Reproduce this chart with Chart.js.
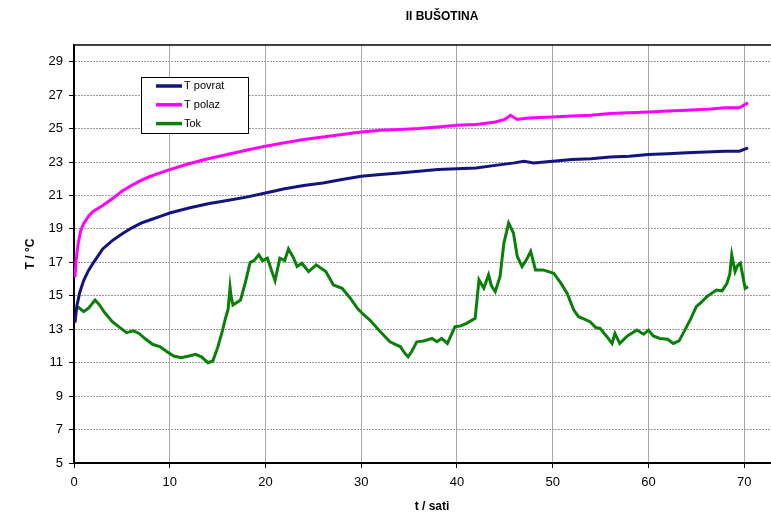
<!DOCTYPE html>
<html>
<head>
<meta charset="utf-8">
<script src="https://cdn.jsdelivr.net/npm/chart.js@4.4.1/dist/chart.umd.min.js"></script>
<style>
  html, body { margin: 0; padding: 0; background: #fff; }
  #wrap { width: 771px; height: 514px; }
</style>
</head>
<body>
<div id="wrap"><canvas id="bushChart" width="771" height="514"></canvas></div>
<script>
// T povrat
const povratT = [0.1, 0.3, 0.6, 1.0, 1.5, 2, 3, 4, 5, 6, 7, 8, 9, 10, 12, 14, 16, 18, 20, 22, 24, 26, 28, 30, 32, 34, 36, 38, 40, 42, 44, 46, 47, 48, 50, 52, 54, 56, 58, 60, 62, 64, 66, 68, 69.5, 70.4];
const povratV = [13.4, 14.4, 15.2, 15.9, 16.5, 16.95, 17.8, 18.3, 18.7, 19.05, 19.35, 19.55, 19.75, 19.95, 20.25, 20.5, 20.7, 20.9, 21.15, 21.4, 21.6, 21.75, 21.95, 22.15, 22.25, 22.35, 22.45, 22.55, 22.6, 22.65, 22.8, 22.95, 23.05, 22.95, 23.05, 23.15, 23.2, 23.3, 23.35, 23.45, 23.5, 23.55, 23.6, 23.65, 23.65, 23.85];

// T polaz
const polazT = [0.1, 0.2, 0.4, 0.7, 1.0, 1.5, 2, 3, 4, 5, 6, 7, 8, 9, 10, 12, 14, 16, 18, 20, 22, 24, 26, 28, 30, 32, 34, 36, 38, 40, 42, 44, 45, 45.6, 46.3, 47, 48, 50, 52, 54, 56, 58, 60, 62, 64, 66, 68, 69.5, 70.4];
const polazV = [16.1, 17.0, 18.0, 18.9, 19.3, 19.75, 20.05, 20.4, 20.8, 21.25, 21.6, 21.9, 22.15, 22.35, 22.55, 22.9, 23.2, 23.45, 23.7, 23.95, 24.15, 24.35, 24.5, 24.65, 24.8, 24.9, 24.95, 25.0, 25.1, 25.2, 25.25, 25.4, 25.55, 25.8, 25.55, 25.6, 25.65, 25.7, 25.75, 25.8, 25.9, 25.95, 26.0, 26.05, 26.1, 26.15, 26.25, 26.25, 26.55];

// Tok
const tokT = [0.1, 0.5, 1.0, 1.5, 2.2, 2.6, 3.2, 4.0, 4.8, 5.5, 6.2, 6.8, 7.5, 8.2, 9.0, 9.6, 10.4, 11.2, 12.0, 12.7,
  13.3, 14.0, 14.5, 15.0, 15.5, 15.8, 16.1, 16.3, 16.4, 16.6, 17.0, 17.4, 17.9, 18.4, 18.8, 19.3, 19.7, 20.2, 20.7, 21.0,
  21.5, 22.0, 22.4, 22.9, 23.3, 23.8, 24.5, 25.3, 26.3, 27.1, 28.0, 28.8, 29.6, 30.2, 30.9, 32.0, 33.0, 34.1, 34.5, 34.9,
  35.3, 35.8, 36.5, 37.4, 37.9, 38.4, 39.0, 39.8, 40.4, 41.0, 41.9, 42.1, 42.3, 42.8, 43.3, 43.6, 44.0, 44.5, 44.9, 45.4,
  45.9, 46.3, 46.8, 47.3, 47.7, 48.2, 49.0, 50.1, 50.8, 51.5, 52.2, 52.7, 53.3, 53.9, 54.5, 54.95, 55.6, 56.2, 56.5, 57.0,
  57.8, 58.8, 59.5, 60.0, 60.5, 61.2, 62.0, 62.6, 63.2, 63.8, 64.4, 65.0, 65.5, 66.1, 67.1, 67.7, 68.2, 68.5, 68.7, 69.05,
  69.3, 69.6, 70.1, 70.4];
const tokV = [14.2, 14.3, 14.05, 14.25, 14.75, 14.5, 14.0, 13.45, 13.1, 12.8, 12.9, 12.75, 12.4, 12.1, 11.95, 11.7, 11.4, 11.3, 11.4, 11.5,
  11.35, 11.0, 11.1, 11.9, 12.9, 13.6, 14.2, 15.5, 15.0, 14.45, 14.6, 14.75, 15.8, 17.0, 17.1, 17.45, 17.1, 17.25, 16.4, 15.9,
  17.25, 17.1, 17.8, 17.3, 16.75, 16.95, 16.45, 16.85, 16.45, 15.65, 15.45, 14.9, 14.25, 13.9, 13.55, 12.85, 12.25, 11.95, 11.6, 11.35,
  11.7, 12.25, 12.3, 12.45, 12.25, 12.45, 12.15, 13.15, 13.2, 13.35, 13.65, 14.8, 15.95, 15.45, 16.25, 15.6, 15.25, 16.15, 18.15, 19.35,
  18.75, 17.35, 16.75, 17.2, 17.65, 16.55, 16.55, 16.35, 15.8, 15.15, 14.15, 13.75, 13.6, 13.45, 13.1, 13.05, 12.6, 12.15, 12.75, 12.15,
  12.6, 12.95, 12.7, 12.95, 12.6, 12.45, 12.4, 12.15, 12.3, 12.95, 13.6, 14.35, 14.6, 14.95, 15.35, 15.3, 15.75, 16.3, 17.45, 16.45,
  16.8, 16.95, 15.45, 15.55];

const seriesNames = ["T povrat", "T polaz", "Tok"];
const xTicks = [0, 10, 20, 30, 40, 50, 60, 70];
const yTicks = [5, 7, 9, 11, 13, 15, 17, 19, 21, 23, 25, 27, 29];

function toPoints(ts, vs) {
    return ts.map((t, i) => ({ x: t, y: vs[i] }));
}

// Legend box, titles and top border drawn by hand
const extras = {
    id: "extras",
    afterDraw(chart) {
        const ctx = chart.ctx;
        const area = chart.chartArea;
        ctx.save();
        // top border of plot
        ctx.strokeStyle = "#000";
        ctx.lineWidth = 1.5;
        ctx.beginPath();
        ctx.moveTo(area.left, area.top);
        ctx.lineTo(area.right, area.top);
        ctx.stroke();

        // chart title
        ctx.fillStyle = "#000";
        ctx.font = "bold 12px 'Liberation Sans', Arial, sans-serif";
        ctx.textAlign = "center";
        ctx.textBaseline = "middle";
        ctx.fillText("II BUŠOTINA", 442, 17);

        // x axis title
        ctx.fillText("t / sati", 432, 507);

        // legend
        ctx.fillStyle = "#fff";
        ctx.fillRect(141, 77, 107, 56);
        ctx.strokeStyle = "#000";
        ctx.lineWidth = 1;
        ctx.strokeRect(141.5, 77.5, 107, 56);
        ctx.font = "11px 'Liberation Sans', Arial, sans-serif";
        ctx.textAlign = "left";
        chart.data.datasets.forEach((ds, i) => {
            const y = 86 + i * 18.8;
            ctx.strokeStyle = ds.borderColor;
            ctx.lineWidth = 3.5;
            ctx.beginPath();
            ctx.moveTo(156, y);
            ctx.lineTo(182, y);
            ctx.stroke();
            ctx.fillStyle = "#000";
            ctx.fillText(ds.label, 184, y);
        });
        ctx.restore();
    }
};

new Chart("bushChart", {
    type: "line",
    data: {
        datasets: [{
            label: seriesNames[0],
            borderColor: "#14147f",
            backgroundColor: "#14147f",
            data: toPoints(povratT, povratV),
            borderWidth: 3,
            pointRadius: 0,
            fill: false
        }, {
            label: seriesNames[1],
            borderColor: "#ff00ff",
            backgroundColor: "#ff00ff",
            data: toPoints(polazT, polazV),
            borderWidth: 3,
            pointRadius: 0,
            fill: false
        }, {
            label: seriesNames[2],
            borderColor: "#0a7f0a",
            backgroundColor: "#0a7f0a",
            data: toPoints(tokT, tokV),
            borderWidth: 3,
            pointRadius: 0,
            fill: false
        }]
    },
    options: {
        responsive: false,
        animation: false,
        layout: { padding: { left: 20, top: 45, right: 0, bottom: 0 } },
        plugins: {
            legend: { display: false },
            tooltip: { enabled: false }
        },
        scales: {
            x: {
                type: "linear",
                min: 0,
                max: 72.8,
                afterBuildTicks: axis => { axis.ticks = xTicks.map(v => ({ value: v })); },
                afterFit: axis => { axis.height = 51; },
                grid: { color: "#a8a8a8", lineWidth: 1, tickColor: "#000", tickLength: 5 },
                border: { color: "#000", width: 2 },
                ticks: {
                    color: "#000",
                    padding: 7,
                    maxRotation: 0,
                    font: { family: "'Liberation Sans', Arial, sans-serif", size: 13 }
                }
            },
            y: {
                min: 5,
                max: 30,
                afterBuildTicks: axis => { axis.ticks = yTicks.map(v => ({ value: v })); },
                afterFit: axis => { axis.width = 54; },
                grid: { color: "#9a9a9a", lineWidth: 1, tickColor: "#000", tickLength: 5 },
                border: { color: "#000", width: 2, dash: [2, 1] },
                ticks: {
                    color: "#000",
                    padding: 6,
                    font: { family: "'Liberation Sans', Arial, sans-serif", size: 13 }
                },
                title: {
                    display: true,
                    text: "T / °C",
                    color: "#000",
                    padding: { top: 3, bottom: 0 },
                    font: { family: "'Liberation Sans', Arial, sans-serif", size: 12, weight: "bold" }
                }
            }
        }
    },
    plugins: [extras]
});
</script>
</body>
</html>
